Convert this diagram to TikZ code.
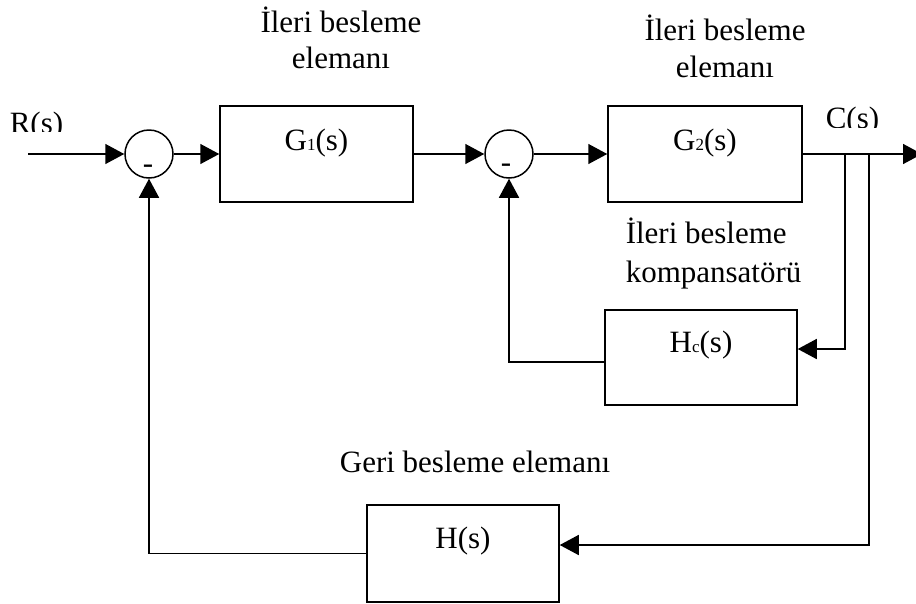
\documentclass[tikz,border=0pt]{standalone}
\usepackage{fontspec}
\setmainfont{Liberation Serif}
\usetikzlibrary{arrows.meta,calc}
\newcommand{\smallsub}[1]{{\fontsize{17}{17}\selectfont #1}}
\begin{document}
\begin{tikzpicture}[x=1pt,y=-1pt,line width=1.5pt,
  lbl/.style={inner sep=0pt,font=\fontsize{31}{36}\selectfont},
  blk/.style={draw,rectangle,inner sep=0pt},
  sumnode/.style={draw,circle,inner sep=0pt,minimum size=48pt},
  arr/.style={-{Triangle[length=19pt,width=20pt]}}]
\useasboundingbox (0,0) rectangle (916,603);

% blocks
\node[blk,minimum width=193pt,minimum height=96pt] (G1) at (316.5,154) {};
\node[blk,minimum width=194pt,minimum height=96pt] (G2) at (705,154) {};
\node[blk,minimum width=192pt,minimum height=95pt] (Hc) at (701,357.5) {};
\node[blk,minimum width=192pt,minimum height=97pt] (H) at (463,553.5) {};

% summing junctions
\node[sumnode] (S1) at (149,154) {};
\node[sumnode] (S2) at (509,154) {};
\node[lbl,anchor=base] (m1) at (148,173) {-};
\node[lbl,anchor=base] (m2) at (506,172) {-};

% block texts
\node[lbl,anchor=base] (G1t) at (316.5,150) {G\smallsub{1}(s)};
\node[lbl,anchor=base] (G2t) at (705,150) {G\smallsub{2}(s)};
\node[lbl,anchor=base] (Hct) at (701,352) {H\smallsub{c}(s)};
\node[lbl,anchor=base] (Ht) at (463,548) {H(s)};

% signal labels (cut at the bottom as in the original)
\begin{scope}
  \clip (0,100) rectangle (120,131);
  \node[lbl,anchor=base] (R) at (36.5,133) {R(s)};
\end{scope}
\begin{scope}
  \clip (810,95) rectangle (900,127);
  \node[lbl,anchor=base] (C) at (852.5,128.5) {C(s)};
\end{scope}

% descriptive labels
\node[lbl,anchor=base] (L1a) at (341,32) {İleri besleme};
\node[lbl,anchor=base] (L1b) at (341,68) {elemanı};
\node[lbl,anchor=base] (L2a) at (725,40) {İleri besleme};
\node[lbl,anchor=base] (L2b) at (725,77) {elemanı};
\node[lbl,anchor=base west] (L3a) at (625,243) {İleri besleme};
\node[lbl,anchor=base west] (L3b) at (625,282) {kompansatörü};
\node[lbl,anchor=base] (L4) at (475,472) {Geri besleme elemanı};

% connectors
\coordinate (in) at (28,154);
\coordinate (out) at (922,154);
\coordinate (b1) at (845,154);
\coordinate (b2) at (869,154);
\draw[arr] (in) -- (S1);
\draw[arr] (S1) -- (G1);
\draw[arr] (G1) -- (S2);
\draw[arr] (S2) -- (G2);
\draw[arr] (G2.east) -- (out);
\draw[arr] (b1) |- ($(Hc.east)+(0,-8.5)$);
\draw[arr] (b2) |- ($(H.east)+(0,-8.5)$);
\draw[arr] ($(Hc.west)+(0,4.5)$) -| (S2.south);
\draw[arr] (H.west) -| (S1.south);
\end{tikzpicture}
\end{document}
